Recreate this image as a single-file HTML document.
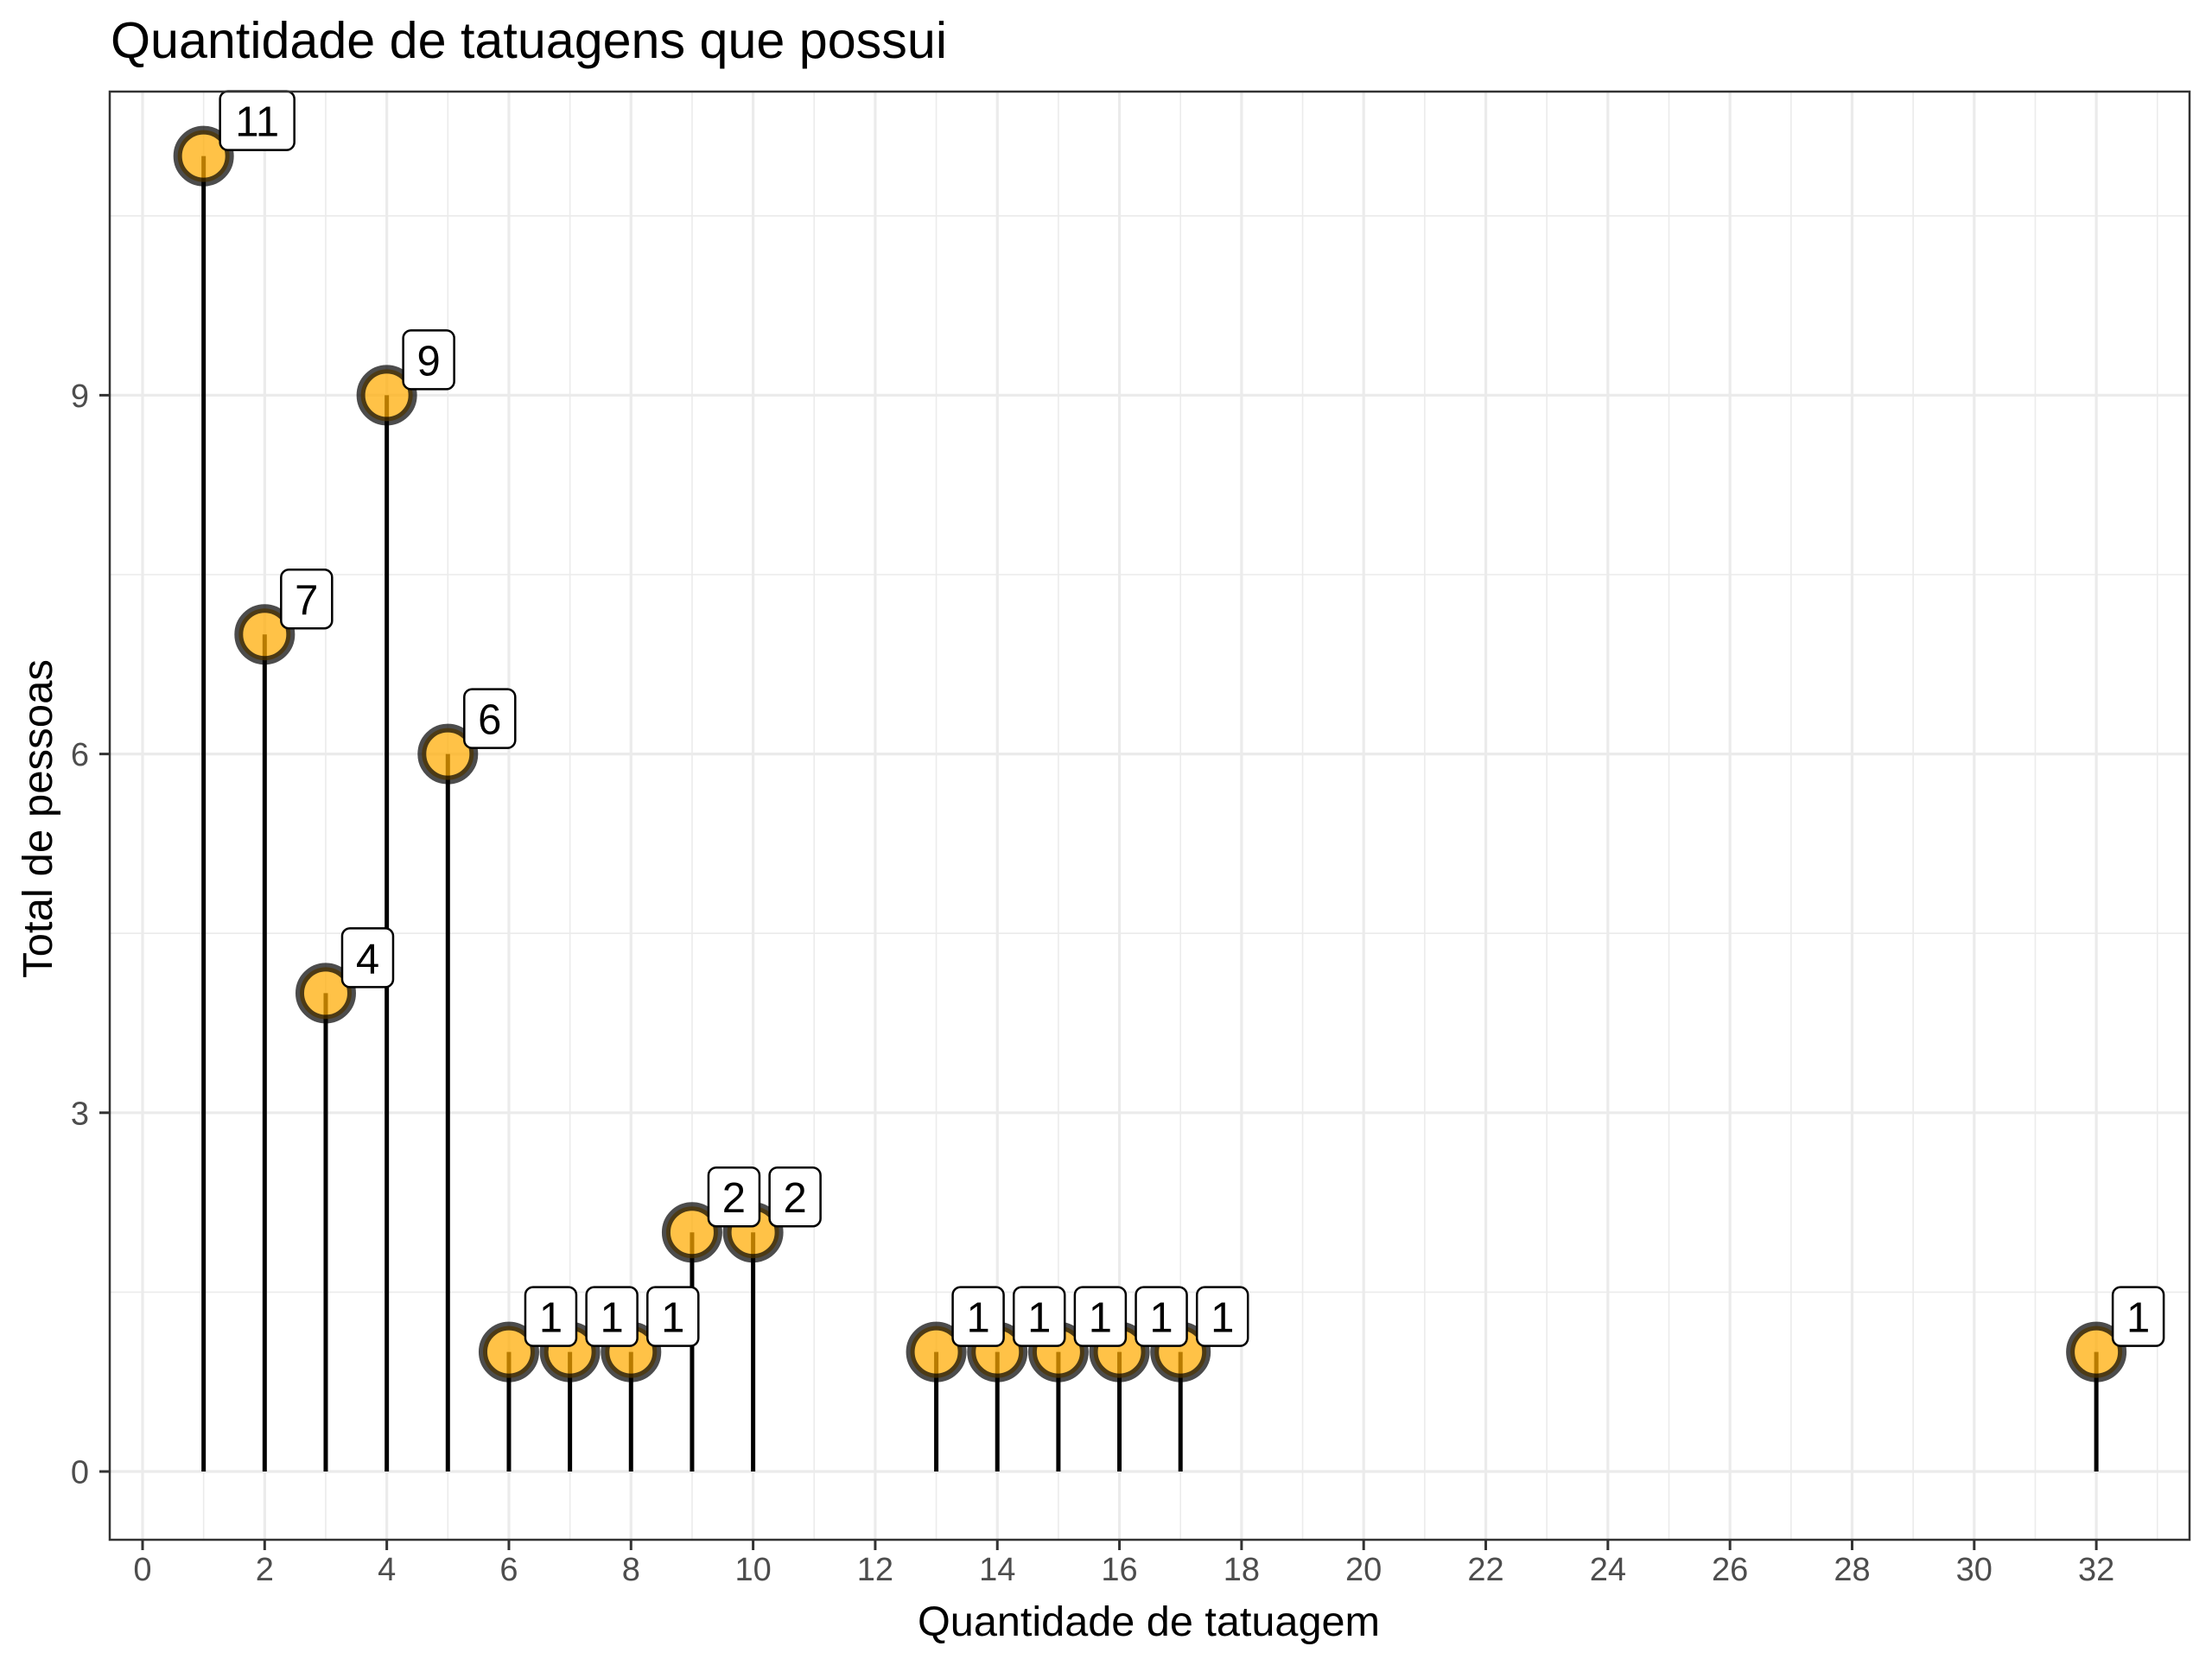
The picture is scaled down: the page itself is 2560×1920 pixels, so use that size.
<!DOCTYPE html>
<html><head><meta charset="utf-8">
<style>html,body{margin:0;padding:0;background:#fff;}svg{display:block;font-family:"Liberation Sans",Arial,sans-serif;}</style>
</head><body>
<svg id="chart" width="2560" height="1920" viewBox="0 0 2560 1920" xmlns="http://www.w3.org/2000/svg">
<text x="128" y="67" font-size="59" textLength="968" lengthAdjust="spacingAndGlyphs" fill="#000">Quantidade de tatuagens que possui</text>
<g id="grid"></g>
<g id="marks"></g>
<rect x="127" y="106" width="2407" height="1676" fill="none" stroke="#333" stroke-width="2.5"/>
<g id="axes"></g>
<text x="1062" y="1893" font-size="48" textLength="535" lengthAdjust="spacingAndGlyphs" fill="#000">Quantidade de tatuagem</text>
<text transform="translate(60,1132) rotate(-90)" font-size="48" textLength="369" lengthAdjust="spacingAndGlyphs" fill="#000">Total de pessoas</text>
</svg>
<script>
const categories = [1,2,3,4,5,6,7,8,9,10,13,14,15,16,17,32];
const counts = [11,7,4,9,6,1,1,1,2,2,1,1,1,1,1,1];
const xTicks = [0,2,4,6,8,10,12,14,16,18,20,22,24,26,28,30,32];
const yTicks = [0,3,6,9];
const yMinor = [1.5,4.5,7.5,10.5];

const NS = "http://www.w3.org/2000/svg";
const PL = 127, PR = 2534, PT = 106, PB = 1782;
function sx(v){ return 165 + v * 70.66; }
function sy(v){ return 1703 - v * 138.4; }
function mk(tag, attrs, parent){
  const e = document.createElementNS(NS, tag);
  for (const k in attrs) e.setAttribute(k, attrs[k]);
  parent.appendChild(e);
  return e;
}
const grid = document.getElementById('grid');
const marks = document.getElementById('marks');
const axes = document.getElementById('axes');

for (let v = 1; v <= 33; v += 2) {
  const l = mk('line', {x1: sx(v), x2: sx(v), y1: PT, y2: PB, stroke: '#ebebeb', 'stroke-width': 1.6}, grid);
  
  
}
for (const v of yMinor) {
  const l = mk('line', {x1: PL, x2: PR, y1: sy(v), y2: sy(v), stroke: '#ebebeb', 'stroke-width': 1.6}, grid);
  
  
}
for (const v of xTicks) {
  const l = mk('line', {x1: sx(v), x2: sx(v), y1: PT, y2: PB, stroke: '#ebebeb', 'stroke-width': 3.2}, grid);
  
  
  const t = mk('line', {x1: sx(v), x2: sx(v), y1: PB, y2: PB + 12, stroke: '#333', 'stroke-width': 3}, axes);
  
  
  const tx = mk('text', {x: sx(v), y: 1829, 'font-size': 38, fill: '#4d4d4d', 'text-anchor': 'middle'}, axes);
  tx.textContent = v;
  
  
}
for (const v of yTicks) {
  const l = mk('line', {x1: PL, x2: PR, y1: sy(v), y2: sy(v), stroke: '#ebebeb', 'stroke-width': 3.2}, grid);
  
  
  const t = mk('line', {x1: PL - 12, x2: PL, y1: sy(v), y2: sy(v), stroke: '#333', 'stroke-width': 3}, axes);
  
  
  const tx = mk('text', {x: 103, y: sy(v) + 13.5, 'font-size': 38, fill: '#4d4d4d', 'text-anchor': 'end'}, axes);
  tx.textContent = v;
  
  
}
categories.forEach((c, i) => {
  const l = mk('line', {x1: sx(c), x2: sx(c), y1: sy(0), y2: sy(counts[i]), stroke: '#000', 'stroke-width': 5}, marks);
  
  
});
categories.forEach((c, i) => {
  const p = mk('circle', {cx: sx(c), cy: sy(counts[i]), r: 30, fill: '#FFAA00', 'fill-opacity': 0.72, stroke: '#000', 'stroke-opacity': 0.7, 'stroke-width': 10}, marks);
  
  
});
categories.forEach((c, i) => {
  const txt = String(counts[i]);
  const w = txt.length > 1 ? 86 : 59;
  const left = sx(c) + 19, bottom = sy(counts[i]) - 7, h = 68;
  const g = mk('g', {}, marks);
  
  
  mk('rect', {x: left, y: bottom - h, width: w, height: h, rx: 9, fill: '#fff', stroke: '#000', 'stroke-width': 2.5}, g);
  const t = mk('text', {x: left + w / 2, y: bottom - 16, 'font-size': 49, 'text-anchor': 'middle', fill: '#000'}, g);
  t.textContent = txt;
});
</script>
</body></html>
